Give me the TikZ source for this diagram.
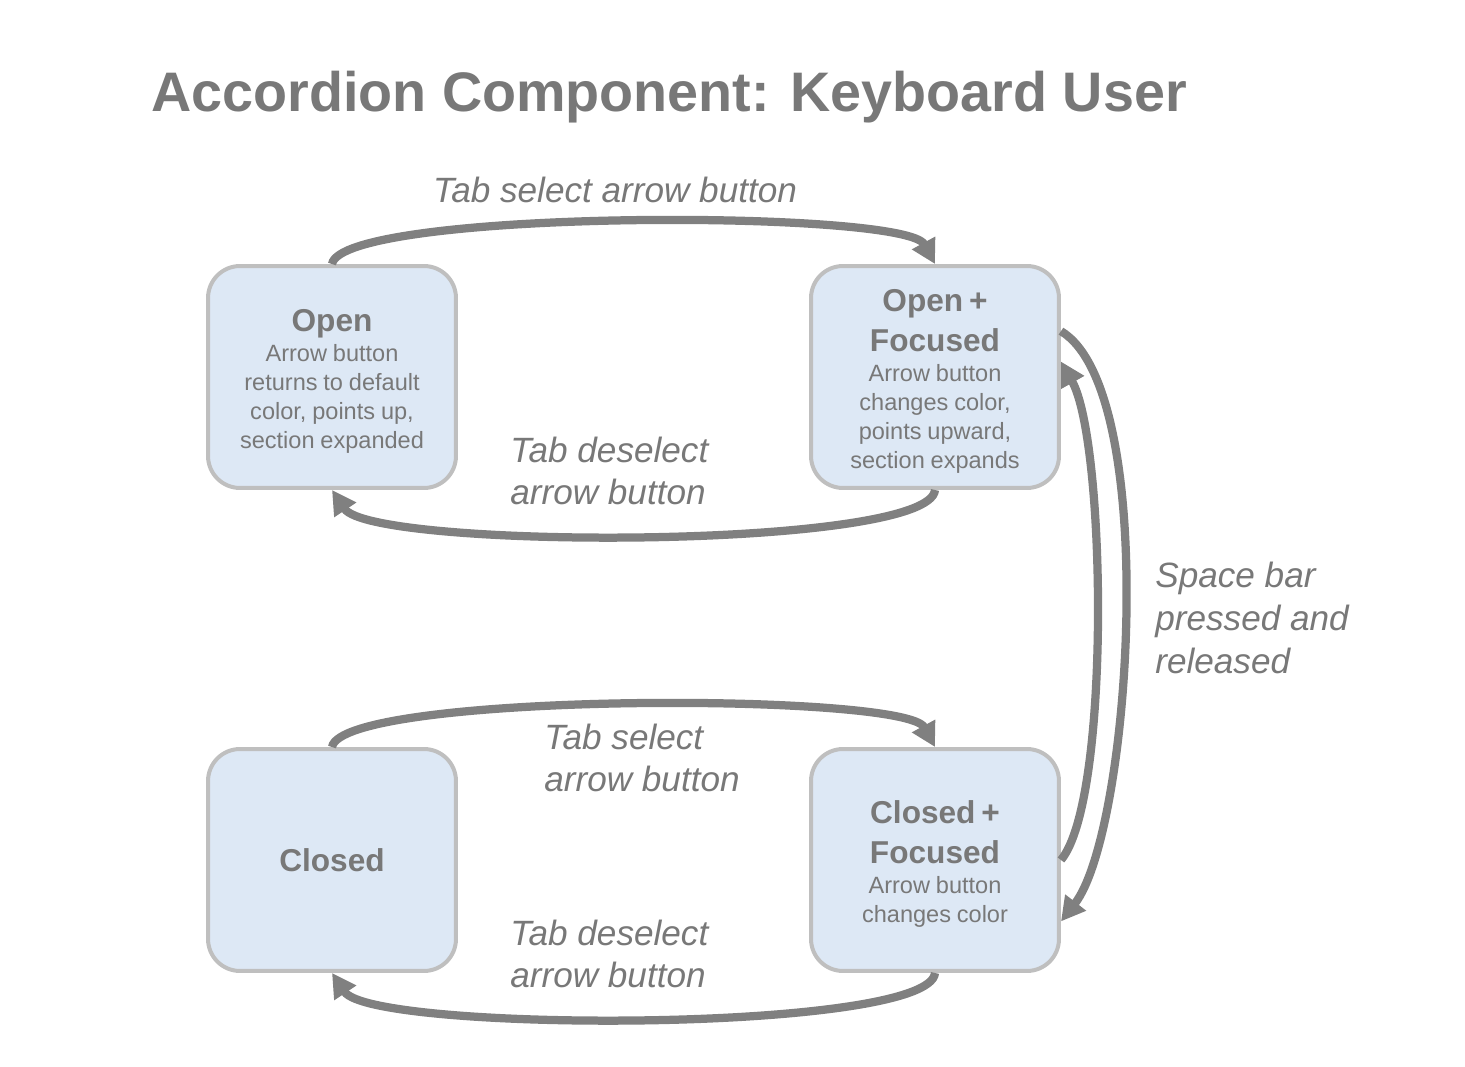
\documentclass[tikz,border=0pt]{standalone}
\usepackage{fontspec}
\setmainfont{Liberation Sans}
\usetikzlibrary{arrows.meta}
\definecolor{boxfill}{HTML}{DDE8F5}
\definecolor{boxline}{HTML}{BFBFBF}
\definecolor{ink}{HTML}{787878}
\definecolor{arrowgray}{HTML}{808080}
\newcommand{\boxtitle}{\fontsize{18}{22.9}\selectfont\bfseries}
\newcommand{\boxbody}{\fontsize{13.4}{16.5}\selectfont}
\begin{document}
\begin{tikzpicture}[x=0.02cm, y=-0.02cm,
  >={Triangle[length=0.48cm,width=0.5cm]},
  state/.style={draw=boxline, line width=0.08cm, fill=boxfill, rounded corners=0.64cm,
    minimum width=4.96cm, minimum height=4.44cm, text width=4.6cm, align=center,
    inner sep=0pt, text=ink},
  trans/.style={draw=arrowgray, line width=0.165cm, ->},
  lbl/.style={text=ink, font=\fontsize{20}{24.3}\selectfont\itshape, align=left,
    anchor=west, inner sep=0pt}]
\useasboundingbox (0,0) rectangle (1465,1067);

\node [text=ink, font=\fontsize{31.7}{38}\selectfont\bfseries, anchor=base, inner sep=0pt]
  (title) at (669,112) {Accordion Component: Keyboard User};

\node [state] (open) at (332,377) {\par\vspace{-5.4pt}{\boxtitle Open\par}\vspace{0.5pt}{\boxbody Arrow button\\returns to default\\color, points up,\\section expanded\par}};
\node [state] (openf) at (935,377) {\par\vspace{-5.4pt}{\boxtitle Open +\\Focused\par}\vspace{0.5pt}{\boxbody Arrow button\\changes color,\\points upward,\\section expands\par}};
\node [state] (closed) at (332,860) {{\boxtitle Closed\par}};
\node [state] (closedf) at (935,860) {\par\vspace{-5.4pt}{\boxtitle Closed +\\Focused\par}\vspace{0.5pt}{\boxbody Arrow button\\changes color\par}};

\draw [trans] (open.north) .. controls +(10,-55) and +(-30,-55) .. (openf.north);
\draw [trans] (openf.south) .. controls +(-5,60) and +(40,60) .. (open.south);
\draw [trans] (closed.north) .. controls +(10,-55) and +(-30,-55) .. (closedf.north);
\draw [trans] (closedf.south) .. controls +(-5,60) and +(40,60) .. (closed.south);
\draw [trans] (openf.20) .. controls +(100,60) and +(70,-90) .. (closedf.-26);
\draw [trans] (closedf.east) .. controls +(50,-60) and +(45,80) .. (openf.7);

\node [lbl, anchor=center] (tabsel) at (615,190) {Tab select arrow button};
\node [lbl] (tabdesel) at (510,471) {Tab deselect\\arrow button};
\node [lbl] (tabselb) at (544,758) {Tab select\\arrow button};
\node [lbl] (tabdeselb) at (510,954) {Tab deselect\\arrow button};
\node [lbl] (space) at (1155,618) {Space bar\\pressed and\\released};
\end{tikzpicture}
\end{document}
